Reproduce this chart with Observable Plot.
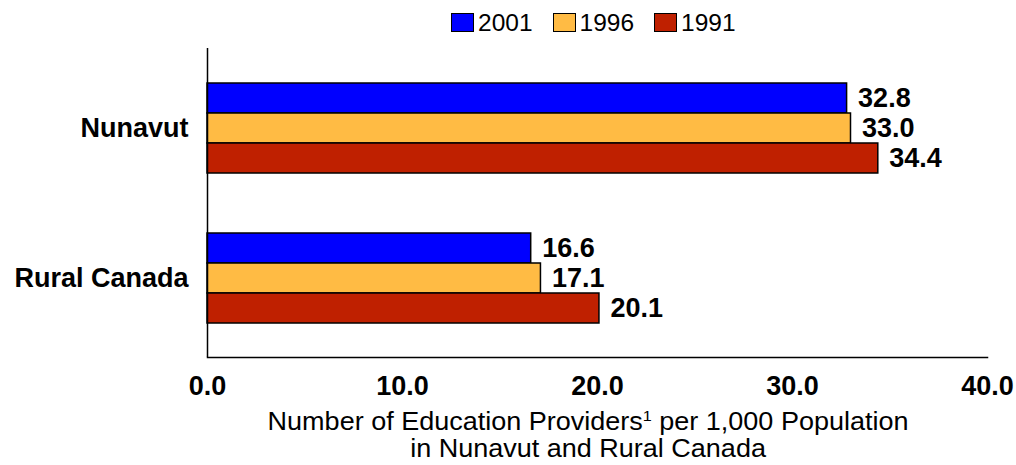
<!DOCTYPE html>
<html>
<head>
<meta charset="utf-8">
<script src="https://cdn.jsdelivr.net/npm/d3@7"></script>
<script src="https://cdn.jsdelivr.net/npm/@observablehq/plot@0.6"></script>
<style>
  html, body { margin: 0; padding: 0; background: #fff; }
  body { width: 1016px; height: 465px; position: relative; overflow: hidden; font-family: "Liberation Sans", Arial, sans-serif; color: #000; }
  #legend { position: absolute; left: 451px; top: 0; height: 45px; display: flex; align-items: center; font-size: 24.5px; }
  #legend .item { display: flex; align-items: center; margin-right: 20px; }
  #legend .sw { width: 23px; height: 19px; box-sizing: border-box; border: 1.5px solid #000; margin-right: 4px; }
  #chart { position: absolute; left: 0; top: 45px; }
  #xtitle { position: absolute; left: 0; width: 1089px; top: 408px; text-align: center; font-size: 25px; line-height: 27px; transform: scaleX(1.08); transform-origin: 0 0; white-space: nowrap; }
  #xtitle sup { font-size: 15px; vertical-align: 9px; line-height: 0; }
</style>
</head>
<body>
<div id="legend"></div>
<div id="chart"></div>
<div id="xtitle">Number of Education Providers<sup>1</sup> per 1,000 Population<br>in Nunavut and Rural Canada</div>
<script>
const categories = ["Nunavut", "Rural Canada"];
const years = ["2001", "1996", "1991"];
const values2001 = [32.8, 16.6];
const values1996 = [33.0, 17.1];
const values1991 = [34.4, 20.1];
const xTicks = [0, 10, 20, 30, 40];
const yearColors = ["#0000ff", "#ffbb44", "#bf2000"];

const seriesByYear = {"2001": values2001, "1996": values1996, "1991": values1991};
const data = [];
categories.forEach((c, i) => years.forEach(y => data.push({category: c, year: y, value: seriesByYear[y][i]})));
const key = (c, y) => c + "|" + y;

// band domain: one empty band above, two between groups, one below
const yDomain = ["pad-top"];
categories.forEach((c, i) => {
  if (i > 0) yDomain.push("gap-a" + i, "gap-b" + i);
  years.forEach(y => yDomain.push(key(c, y)));
});
yDomain.push("pad-bottom");

// legend
const legend = document.getElementById("legend");
years.forEach((y, i) => {
  const item = document.createElement("div");
  item.className = "item";
  const sw = document.createElement("div");
  sw.className = "sw";
  sw.style.background = yearColors[i];
  const t = document.createElement("span");
  t.textContent = y;
  item.appendChild(sw); item.appendChild(t);
  legend.appendChild(item);
});

const bold = {fontSize: 27, fontWeight: "bold", fill: "#000"};

const chart = Plot.plot({
  width: 1016,
  height: 362,
  marginTop: 3,
  marginBottom: 50,
  marginLeft: 207,
  marginRight: 29,
  style: {fontFamily: "'Liberation Sans', Arial, sans-serif", color: "#000", background: "#fff"},
  x: {domain: [0, 40], label: null},
  y: {type: "band", domain: yDomain, padding: 0, axis: null},
  color: {domain: years, range: yearColors},
  marks: [
    Plot.axisX({ticks: xTicks, tickFormat: d => d.toFixed(1), tickSize: 0, tickPadding: 18, fontSize: 27, fontWeight: "bold", label: null}),
    Plot.barX(data, {y: d => key(d.category, d.year), x: "value", fill: "year", stroke: "#000", strokeWidth: 1.5}),
    Plot.text(data, {y: d => key(d.category, d.year), x: "value", text: d => d.value.toFixed(1), textAnchor: "start", dx: 11, ...bold}),
    Plot.text(categories, {y: c => key(c, years[1]), x: () => 0, text: c => c, textAnchor: "end", dx: -19, ...bold}),
    Plot.ruleX([0], {stroke: "#000", strokeWidth: 1.5}),
    Plot.frame({anchor: "bottom", stroke: "#000", strokeWidth: 1.5})
  ]
});
document.getElementById("chart").appendChild(chart);
</script>
</body>
</html>
